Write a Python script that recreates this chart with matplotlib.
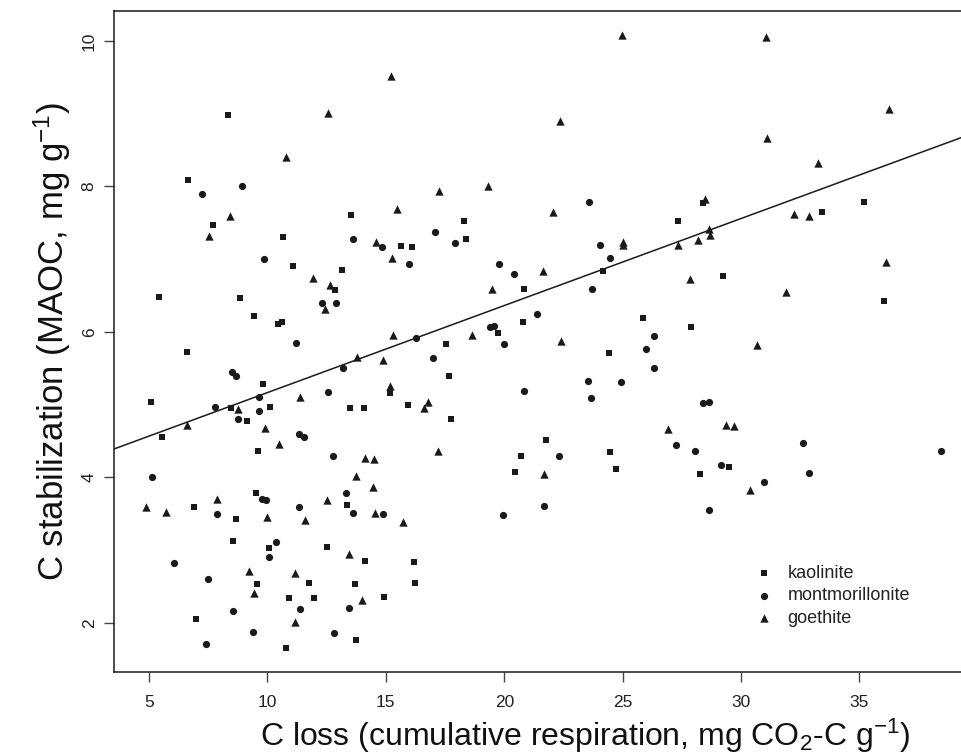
import numpy as np
import matplotlib
matplotlib.use('Agg')
import matplotlib.pyplot as plt

plt.rcParams['font.family'] = ['Liberation Sans', 'DejaVu Sans']
plt.rcParams['mathtext.fontset'] = 'custom'
plt.rcParams['mathtext.rm'] = 'Liberation Sans'
plt.rcParams['mathtext.it'] = 'Liberation Sans:italic'
plt.rcParams['mathtext.default'] = 'regular'

# kaolinite (squares)
kao_x = [8.35, 6.63, 7.69, 13.52, 18.32, 27.34, 28.4, 35.2, 33.42, 10.67,
         11.1, 13.16, 12.87, 5.44, 8.84, 9.45, 10.45, 10.62, 6.59, 9.80,
         5.08, 8.45, 10.1, 13.47, 14.08, 9.15, 5.54, 15.63, 16.1, 18.38,
         24.19, 20.85, 20.8, 25.84, 19.74, 24.43, 17.53, 17.65, 15.18, 15.95,
         17.76, 21.75, 29.22, 36.05, 27.87, 9.59, 9.53, 13.37, 6.90, 8.69,
         8.55, 10.07, 12.52, 14.14, 9.55, 11.76, 13.69, 10.91, 11.95, 14.93,
         6.97, 13.72, 10.77, 20.7, 20.46, 24.45, 24.72, 16.2, 16.25, 29.48,
         28.25]
kao_y = [8.98, 8.09, 7.47, 7.60, 7.52, 7.52, 7.77, 7.78, 7.65, 7.30,
         6.90, 6.85, 6.57, 6.48, 6.46, 6.22, 6.11, 6.14, 5.73, 5.29,
         5.03, 4.96, 4.97, 4.95, 4.96, 4.77, 4.55, 7.18, 7.17, 7.28,
         6.84, 6.59, 6.14, 6.19, 5.98, 5.71, 5.84, 5.39, 5.16, 5.00,
         4.80, 4.51, 6.77, 6.42, 6.07, 4.37, 3.79, 3.62, 3.60, 3.43,
         3.13, 3.03, 3.04, 2.85, 2.54, 2.55, 2.54, 2.34, 2.34, 2.35,
         2.05, 1.77, 1.66, 4.30, 4.08, 4.35, 4.11, 2.84, 2.55, 4.15,
         4.05]

# montmorillonite (circles)
mon_x = [7.23, 8.92, 23.59, 13.6, 14.84, 9.87, 12.32, 12.91, 11.2, 8.52,
         8.68, 13.2, 12.54, 9.66, 7.79, 9.65, 8.77, 11.34, 11.55, 17.08,
         17.93, 15.97, 19.76, 20.43, 24.05, 24.48, 23.72, 21.4, 19.4, 19.55,
         20.01, 16.27, 26.33, 25.98, 26.33, 16.98, 20.82, 23.55, 24.93, 23.66,
         28.39, 28.63, 12.77, 5.11, 9.76, 9.93, 13.3, 7.87, 11.32, 13.6,
         14.9, 10.37, 10.07, 6.06, 7.51, 8.56, 11.37, 13.43, 9.38, 12.83,
         7.42, 22.33, 27.26, 21.66, 19.94, 28.07, 32.6, 38.45, 29.17, 32.85,
         30.97, 28.66]
mon_y = [7.89, 8.00, 7.79, 7.27, 7.17, 7.00, 6.40, 6.40, 5.85, 5.45,
         5.40, 5.51, 5.18, 5.10, 4.97, 4.91, 4.80, 4.60, 4.55, 7.37,
         7.22, 6.93, 6.93, 6.80, 7.19, 7.01, 6.59, 6.24, 6.07, 6.08,
         5.84, 5.92, 5.95, 5.77, 5.50, 5.64, 5.19, 5.33, 5.31, 5.09,
         5.02, 5.04, 4.30, 4.00, 3.70, 3.69, 3.79, 3.50, 3.60, 3.51,
         3.50, 3.11, 2.91, 2.83, 2.61, 2.16, 2.19, 2.20, 1.88, 1.86,
         1.71, 4.30, 4.45, 3.61, 3.48, 4.36, 4.47, 4.36, 4.17, 4.06,
         3.94, 3.55]

# goethite (triangles)
goe_x = [12.57, 15.2, 10.78, 8.42, 24.97, 22.36, 17.24, 19.32, 15.49, 22.05,
         31.04, 36.23, 31.09, 33.25, 28.48, 32.25, 32.87, 7.55, 14.59, 11.93,
         12.63, 12.42, 13.8, 14.9, 11.38, 8.75, 6.6, 9.89, 15.27, 21.65,
         25.0, 27.34, 19.49, 15.32, 18.63, 22.41, 15.18, 16.76, 16.6, 26.9,
         28.63, 28.68, 28.17, 36.1, 27.83, 31.88, 30.69, 29.36, 29.71, 10.49,
         14.14, 14.5, 13.75, 14.46, 7.86, 12.53, 4.87, 5.7, 9.97, 11.59,
         14.53, 13.43, 9.22, 11.18, 9.45, 13.98, 11.17, 17.19, 21.69, 15.73,
         30.39, 25.0]
goe_y = [9.01, 9.52, 8.41, 7.59, 10.08, 8.90, 7.94, 8.01, 7.69, 7.65,
         10.05, 9.07, 8.67, 8.32, 7.82, 7.62, 7.59, 7.32, 7.23, 6.74,
         6.65, 6.31, 5.65, 5.62, 5.10, 4.94, 4.72, 4.68, 7.01, 6.84,
         7.24, 7.20, 6.59, 5.96, 5.96, 5.87, 5.25, 5.04, 4.96, 4.67,
         7.42, 7.33, 7.26, 6.96, 6.73, 6.55, 5.82, 4.72, 4.70, 4.46,
         4.27, 4.25, 4.02, 3.87, 3.71, 3.69, 3.60, 3.52, 3.46, 3.41,
         3.51, 2.95, 2.71, 2.68, 2.41, 2.32, 2.01, 4.37, 4.05, 3.39,
         3.83, 7.19]

# fitted line
fit_intercept = 3.97
fit_slope = 0.1196

x_ticks = [5, 10, 15, 20, 25, 30, 35]
y_ticks = [2, 4, 6, 8, 10]

W, H = 961, 754
fig = plt.figure(figsize=(W / 100, H / 100), dpi=100)
# axes box in pixels: left 114, right 1056 (cropped off), top 11, bottom 672
ax = fig.add_axes([114 / W, (H - 672) / H, (1056 - 114) / W, (672 - 11) / H])
ax.set_xlim(3.52, 43.3)
ax.set_ylim(1.326, 10.41)

ink = '#1a1a1a'
s1 = ax.scatter(kao_x, kao_y, marker='s', s=24, color=ink, linewidths=0)
s2 = ax.scatter(mon_x, mon_y, marker='o', s=27, color=ink, linewidths=0)
s3 = ax.scatter(goe_x, goe_y, marker='^', s=36, color=ink, linewidths=0)

ax.axline((0, fit_intercept), slope=fit_slope, color=ink, lw=1.1)

for sp in ax.spines.values():
    sp.set_linewidth(1.1)
    sp.set_color(ink)

ax.set_xticks(x_ticks)
ax.set_yticks(y_ticks)
ax.tick_params(direction='out', length=7.5, width=1.0, color='#444444',
               labelsize=12.5, labelcolor='#222222')
ax.tick_params(axis='x', pad=9)
ax.tick_params(axis='y', pad=5, labelrotation=90)
for lab in ax.get_yticklabels():
    lab.set_va('center')

ax.set_xlabel(r'C loss (cumulative respiration, mg CO$_2$-C g$^{-1}$)',
              fontsize=23, labelpad=5, color='#111111')
ax.set_ylabel(r'C stabilization (MAOC, mg g$^{-1}$)',
              fontsize=25, labelpad=6, color='#111111')

leg = ax.legend([s1, s2, s3], ['kaolinite', 'montmorillonite', 'goethite'],
                loc='upper left', bbox_to_anchor=(755 / W, 1 - 565 / H),
                bbox_transform=fig.transFigure, frameon=False, fontsize=13,
                scatterpoints=1, handlelength=1.0, handletextpad=0.8,
                borderpad=0, borderaxespad=0, labelspacing=0.3)
for t in leg.get_texts():
    t.set_color('#222222')

fig.savefig('out.png', dpi=100)
